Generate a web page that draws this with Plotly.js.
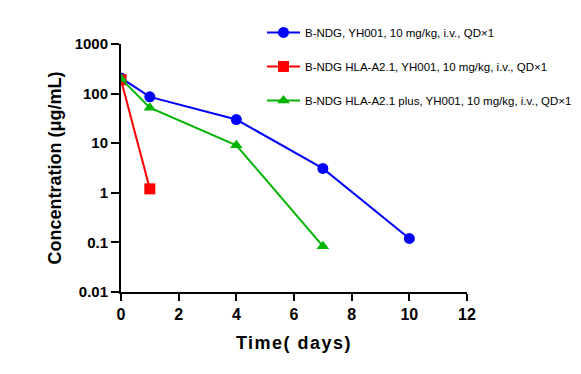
<!DOCTYPE html>
<html><head><meta charset="utf-8">
<script src="https://cdn.plot.ly/plotly-3.0.1.min.js"></script>
<style>body{margin:0;}#c{width:581px;height:374px;} .xtitle{letter-spacing:1.5px;}</style>
</head><body><div id="c"></div>
<script>
const names = ["B-NDG, YH001, 10 mg/kg, i.v., QD×1",
               "B-NDG HLA-A2.1, YH001, 10 mg/kg, i.v., QD×1",
               "B-NDG HLA-A2.1 plus, YH001, 10 mg/kg, i.v., QD×1"];
const daysA = [0, 1, 4, 7, 10];
const concA = [207, 86, 30, 3.1, 0.12];
const daysB = [0, 1];
const concB = [190, 1.2];
const daysC = [0, 1, 4, 7];
const concC = [200, 52, 9.1, 0.084];
const colors = ["#0000ff", "#ff0000", "#00b400"];
const symbols = ["circle", "square", "triangle-up"];
const xs = [daysA, daysB, daysC], ys = [concA, concB, concC];
const traces = xs.map((x, i) => ({
  x: x, y: ys[i], name: names[i], type: "scatter", mode: "lines+markers",
  legendgroup: "g" + i,
  line: {color: colors[i], width: 2},
  marker: {color: colors[i], symbol: symbols[i], size: 11}
}));
const F = "Arial, Liberation Sans, sans-serif";
const layout = {
  width: 581, height: 374,
  margin: {l: 121, r: 0, t: 44, b: 82},
  paper_bgcolor: "#fff", plot_bgcolor: "#fff",
  showlegend: true,
  legend: {x: 0.3065, y: 1.105, xanchor: "left", yanchor: "top",
           font: {family: F, size: 11.5, color: "#000"},
           tracegroupgap: 15, itemwidth: 33, bgcolor: "rgba(0,0,0,0)"},
  xaxis: {domain: [0, 0.7522], range: [0, 12], tickvals: [0, 2, 4, 6, 8, 10, 12], showgrid: false, zeroline: false,
          showline: true, linecolor: "#000", linewidth: 2, ticks: "outside", ticklen: 7, tickwidth: 2,
          tickcolor: "#000", tickfont: {family: F, size: 16, color: "#000", weight: "bold"},
          title: {text: "Time( days)", font: {family: F, size: 18, color: "#000", weight: "bold"}, standoff: 14}},
  yaxis: {type: "log", range: [-2, 3], tickvals: [0.01, 0.1, 1, 10, 100, 1000],
          ticktext: ["0.01", "0.1", "1", "10", "100", "1000"],
          showgrid: false, zeroline: false, showline: true, linecolor: "#000", linewidth: 2,
          ticks: "outside", ticklen: 8, tickwidth: 2, tickcolor: "#000",
          tickfont: {family: F, size: 15, color: "#000", weight: "bold"},
          title: {text: "Concentration (μg/mL)", font: {family: F, size: 18, color: "#000", weight: "bold"}, standoff: 8}}
};
Plotly.newPlot("c", traces, layout, {displayModeBar: false});
</script></body></html>
